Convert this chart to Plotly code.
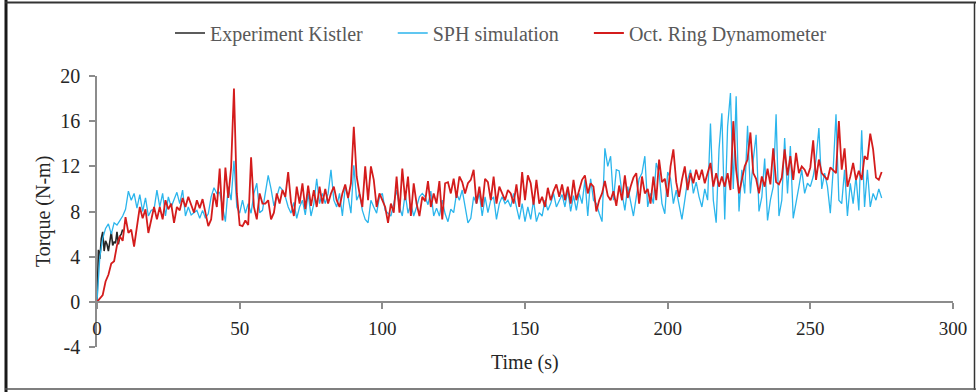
import plotly.graph_objects as go

# ---------------- data ----------------
kistler_time = [0.0, 0.5, 1.0, 1.5, 2.0, 2.5, 3.0, 3.5, 4.0, 4.5, 5.0, 5.5, 6.0, 6.5, 7.0, 7.5, 8.0, 8.5, 9.0]
kistler_torque = [0.0, 4.6, 3.8, 5.6, 6.2, 4.5, 5.4, 5.1, 4.5, 5.4, 6.2, 5.0, 5.3, 5.2, 6.2, 5.1, 5.8, 6.0, 6.4]

time_s = list(range(276))

sph_torque = [
    0.0, 4.0, 5.6, 6.5, 6.9, 6.0, 7.0, 6.8, 7.2, 7.6,
    8.2, 9.8, 9.0, 9.6, 8.3, 9.5, 8.0, 9.2, 7.6, 8.1,
    8.2, 9.9, 8.4, 9.6, 7.6, 9.3, 8.4, 9.0, 9.7, 8.7,
    9.9, 7.6, 8.4, 7.7, 7.9, 8.1, 7.4, 8.1, 7.4, 7.8,
    9.3, 10.1, 9.6, 9.7, 8.4, 7.1, 10.2, 9.0, 12.5, 8.4,
    7.85, 9.0, 7.85, 8.7, 7.85, 9.6, 10.5, 7.9, 8.1, 9.6,
    11.2, 10.0, 8.5, 9.3, 10.2, 9.9, 9.3, 8.4, 7.85, 8.8,
    7.4, 8.4, 9.0, 7.7, 9.6, 7.6, 8.7, 10.9, 8.7, 9.6,
    8.7, 9.6, 11.7, 9.0, 8.4, 9.6, 7.6, 10.2, 9.3, 7.85,
    12.1, 9.0, 9.6, 8.1, 7.3, 7.0, 9.0, 8.4, 7.85, 9.3,
    9.6, 8.1, 7.85, 7.6, 8.7, 9.9, 8.4, 7.6, 9.6, 7.85,
    8.7, 7.6, 8.4, 9.3, 9.6, 9.3, 8.6, 9.8, 7.6, 8.3,
    7.6, 9.0, 7.8, 7.1, 8.2, 7.9, 9.6, 9.0, 9.9, 8.4,
    7.0, 7.4, 9.3, 8.7, 9.6, 7.6, 9.3, 7.9, 9.0, 9.3,
    7.3, 8.7, 9.3, 8.7, 9.0, 8.4, 9.6, 8.4, 7.3, 8.7,
    7.1, 8.4, 7.3, 9.0, 7.1, 7.9, 7.6, 9.0, 8.1, 8.7,
    9.6, 8.4, 9.0, 9.5, 8.4, 9.9, 8.0, 9.4, 8.1, 9.6,
    8.7, 10.8, 7.6, 10.9, 9.0, 8.7, 7.85, 7.1, 13.6, 12.0,
    12.9, 9.0, 11.7, 11.6, 9.6, 8.1, 10.2, 9.0, 7.6, 9.3,
    10.9, 11.4, 12.9, 8.4, 9.6, 8.7, 12.3, 11.4, 8.7, 7.8,
    11.5, 10.9, 8.7, 9.9, 8.4, 7.3, 9.0, 10.8, 11.7, 9.6,
    10.6, 9.3, 8.4, 10.0, 9.0, 15.8, 9.0, 7.0, 13.5, 16.7,
    7.3, 15.5, 18.5, 10.0, 18.2, 8.0, 11.7, 9.6, 15.6, 9.6,
    12.6, 14.8, 8.0, 9.3, 12.7, 7.2, 9.0, 10.2, 16.6, 7.6,
    9.0, 14.5, 9.6, 13.8, 7.4, 8.7, 10.2, 11.7, 9.6, 10.5,
    10.2, 11.1, 12.6, 15.4, 10.0, 11.4, 10.2, 7.85, 11.7, 16.6,
    9.0, 8.7, 11.7, 7.6, 10.5, 8.7, 11.1, 8.1, 15.2, 8.4,
    11.7, 8.4, 9.6, 9.0, 10.0, 9.2,
]

ring_torque = [
    0.0, 0.3, 0.6, 1.8, 2.4, 3.4, 3.6, 5.0, 5.8, 5.4,
    7.5, 6.1, 6.4, 4.9, 6.6, 8.4, 7.4, 8.2, 6.1, 7.4,
    8.4, 7.3, 8.4, 7.3, 9.0, 8.2, 8.7, 7.0, 8.4, 8.1,
    9.2, 8.4, 9.3, 8.6, 7.9, 9.0, 8.3, 9.1, 8.0, 6.7,
    7.3, 9.6, 8.4, 11.8, 7.2, 11.9, 9.2, 11.9, 18.9, 9.6,
    6.8, 6.7, 7.2, 6.8, 12.8, 8.4, 7.3, 9.6, 8.7, 8.7,
    9.0, 7.3, 7.9, 9.6, 8.7, 9.9, 9.3, 11.5, 8.8, 7.6,
    10.2, 8.7, 10.5, 8.2, 10.3, 8.5, 9.9, 8.4, 10.2, 8.7,
    10.0, 8.7, 9.6, 10.2, 9.0, 8.4, 9.6, 10.4, 9.2, 10.5,
    15.5, 11.1, 9.6, 8.4, 12.0, 9.0, 12.0, 10.8, 8.4, 9.6,
    9.0, 8.4, 7.0, 8.7, 7.9, 11.1, 7.9, 11.8, 9.0, 11.1,
    7.6, 10.5, 8.7, 7.6, 9.3, 8.9, 10.7, 8.4, 9.6, 8.7,
    10.7, 7.3, 10.5, 10.6, 9.6, 10.9, 9.2, 11.1, 10.6, 9.6,
    10.5, 10.8, 11.7, 8.7, 10.2, 8.4, 10.9, 10.6, 9.0, 11.1,
    8.7, 10.2, 9.6, 9.0, 9.9, 9.6, 8.7, 10.4, 8.4, 11.5,
    9.0, 11.2, 10.5, 8.6, 10.8, 8.7, 9.3, 8.4, 10.1, 9.0,
    9.8, 10.4, 9.3, 10.4, 9.0, 10.2, 8.7, 10.8, 9.0, 9.8,
    10.8, 11.2, 9.6, 10.5, 10.2, 8.0, 9.0, 9.6, 10.7, 9.4,
    9.0, 9.8, 8.5, 10.3, 9.0, 11.2, 9.2, 10.2, 11.0, 11.4,
    8.7, 11.1, 9.6, 10.0, 8.7, 11.1, 9.0, 12.6, 10.6, 10.9,
    9.3, 12.0, 13.5, 10.6, 9.3, 10.8, 12.0, 9.9, 11.4, 10.5,
    11.7, 10.8, 11.7, 10.5, 11.4, 12.3, 10.2, 11.4, 10.2, 11.1,
    10.2, 11.4, 9.9, 16.0, 11.7, 9.6, 10.8, 12.0, 12.6, 15.0,
    11.4, 10.9, 9.6, 11.1, 10.2, 11.8, 10.4, 13.6, 10.6, 10.4,
    11.0, 13.5, 11.2, 12.9, 10.8, 13.2, 11.4, 12.0, 11.7, 11.1,
    11.9, 14.3, 10.8, 12.6, 11.4, 11.1, 10.8, 11.9, 11.6, 11.4,
    16.0, 11.7, 13.6, 10.2, 11.1, 12.3, 10.8, 11.6, 10.8, 12.9,
    12.6, 14.9, 13.5, 11.0, 10.8, 11.5,
]

x_ticks = [0, 50, 100, 150, 200, 250, 300]
y_ticks = [-4, 0, 4, 8, 12, 16, 20]
y_tick_labels = ["-4", "0", "4", "8", "12", "16", "20"]

# ---------------- figure ----------------
W, H = 978, 392
ML, MR, MT, MB = 97, 25, 76, 45
PW, PH = W - ML - MR, H - MT - MB

def px_to_paper_x(px):
    return (px - ML) / PW

def px_to_paper_y(py):
    return (H - MB - py) / PH

FONT = "Liberation Serif, Times New Roman, serif"
PAD = "\u00a0" * 5

fig = go.Figure()
fig.add_trace(go.Scatter(x=kistler_time, y=kistler_torque, mode="lines",
                         name="Experiment Kistler" + PAD,
                         line=dict(color="#262626", width=1.6)))
fig.add_trace(go.Scatter(x=time_s, y=sph_torque, mode="lines",
                         name="SPH simulation" + PAD,
                         line=dict(color="#2BB5EC", width=1.3)))
fig.add_trace(go.Scatter(x=time_s, y=ring_torque, mode="lines",
                         name="Oct. Ring Dynamometer",
                         line=dict(color="#D41C1C", width=1.8)))

axis_color = "#8C8C8C"
fig.update_layout(
    width=W, height=H,
    margin=dict(l=ML, r=MR, t=MT, b=MB, autoexpand=False),
    paper_bgcolor="white", plot_bgcolor="white",
    font=dict(family=FONT, size=19, color="#262626"),
    showlegend=True,
    legend=dict(orientation="h", x=px_to_paper_x(501), xanchor="center",
                y=px_to_paper_y(33), yanchor="middle",
                font=dict(family=FONT, size=20, color="#595959"),
                itemwidth=30, bgcolor="rgba(0,0,0,0)"),
    xaxis=dict(range=[0, 300], tickvals=x_ticks, showgrid=False, zeroline=False,
               showline=True, linecolor=axis_color, linewidth=1.5,
               ticks="outside", ticklen=6, tickcolor=axis_color, tickwidth=1.5,
               anchor="free", position=4 / 24, ticklabelstandoff=4,
               tickfont=dict(family=FONT, size=19, color="#262626")),
    yaxis=dict(range=[-4, 20], tickvals=y_ticks, ticktext=y_tick_labels,
               showgrid=False, zeroline=False,
               showline=True, linecolor=axis_color, linewidth=1.5,
               ticks="outside", ticklen=6, tickcolor=axis_color, tickwidth=1.5,
               ticklabelstandoff=5,
               tickfont=dict(family=FONT, size=20, color="#262626")),
    annotations=[
        dict(text="Torque (N-m)", xref="paper", yref="paper",
             x=px_to_paper_x(43), y=px_to_paper_y(212), textangle=-90,
             showarrow=False, xanchor="center", yanchor="middle",
             font=dict(family=FONT, size=20, color="#262626")),
        dict(text="Time (s)", xref="paper", yref="paper",
             x=px_to_paper_x(525), y=px_to_paper_y(362),
             showarrow=False, xanchor="center", yanchor="middle",
             font=dict(family=FONT, size=20, color="#262626")),
    ],
    shapes=[
        dict(type="line", xref="paper", yref="paper",
             x0=px_to_paper_x(6), x1=px_to_paper_x(6),
             y0=px_to_paper_y(0), y1=px_to_paper_y(392),
             line=dict(color="#1a1a1a", width=3)),
        dict(type="line", xref="paper", yref="paper",
             x0=px_to_paper_x(5), x1=px_to_paper_x(976),
             y0=px_to_paper_y(2.5), y1=px_to_paper_y(2.5),
             line=dict(color="#333333", width=2)),
        dict(type="line", xref="paper", yref="paper",
             x0=px_to_paper_x(974.5), x1=px_to_paper_x(974.5),
             y0=px_to_paper_y(2), y1=px_to_paper_y(390),
             line=dict(color="#333333", width=1.5)),
        dict(type="line", xref="paper", yref="paper",
             x0=px_to_paper_x(5), x1=px_to_paper_x(976),
             y0=px_to_paper_y(389), y1=px_to_paper_y(389),
             line=dict(color="#555555", width=1.5)),
    ],
)

fig.write_html("out.html")
